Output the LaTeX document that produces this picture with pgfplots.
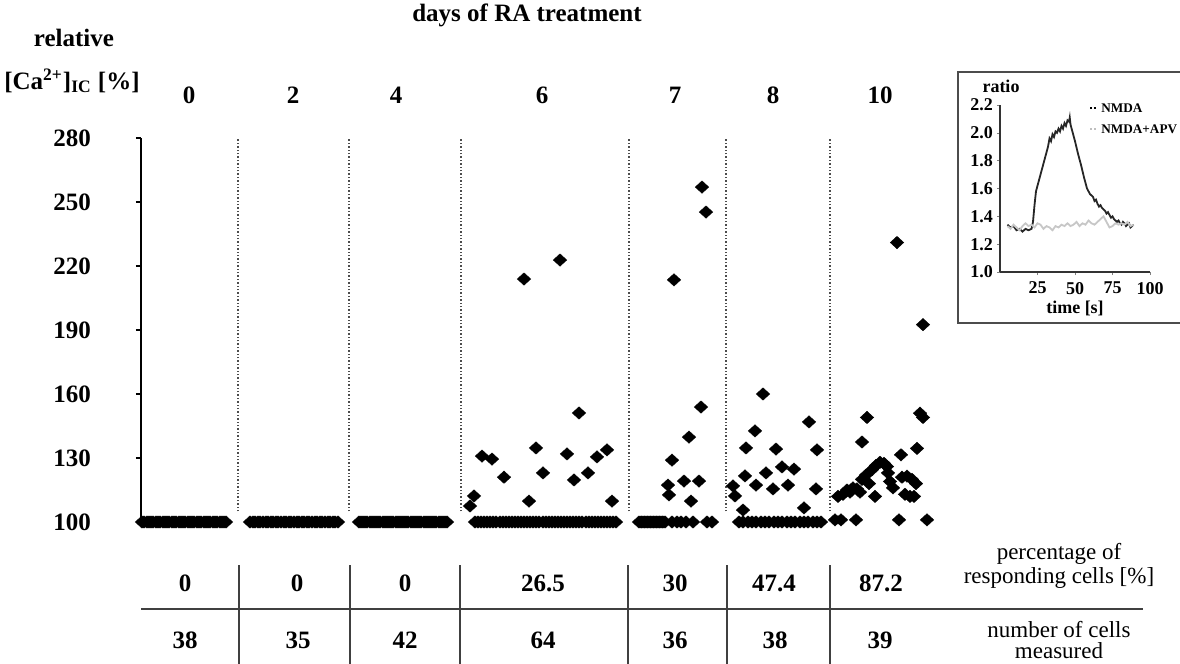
\documentclass[border=0pt]{standalone}
\usepackage{pgfplots}
\pgfplotsset{compat=1.18}
\usepackage{fontspec}
\setmainfont{Liberation Serif}
\pgfplotsset{
  dia/.style={only marks, mark=diamond*, mark size=3.1pt,
    mark options={fill=black, draw=black, line width=0.2pt, xscale=1.45}},
  sep/.style={densely dotted, black!70, line width=0.7pt},
}
\newcommand{\hf}{\fontsize{12.5}{14}\selectfont\bfseries}
\newcommand{\rf}{\fontsize{11.5}{13}\selectfont}
\newcommand{\insetf}{\fontsize{9}{10}\selectfont\bfseries}
\newcommand{\legf}{\fontsize{6.6}{7}\selectfont\bfseries}
\begin{document}
\begin{tikzpicture}[x=0.5pt,y=-0.5pt]
\useasboundingbox (0,0) rectangle (1180,664);

\begin{axis}[
  at={(70.5pt,-261pt)}, anchor=south west,
  scale only axis, width=402pt, height=192pt,
  xmin=141, xmax=945, ymin=100, ymax=280,
  axis x line=none, axis y line=left,
  axis line style={line width=1.4pt,-},
  ytick={100,130,160,190,220,250,280},
  xtick=\empty,
  tick align=outside, major tick length=2.5pt,
  tick style={line width=1pt,black},
  clip=false,
  /pgf/number format/assume math mode=true,
  yticklabel style={font=\hf, xshift=-19pt},
]
% separators
\addplot[sep] coordinates {(238,105) (238,280)};
\addplot[sep] coordinates {(349,105) (349,280)};
\addplot[sep] coordinates {(461,105) (461,280)};
\addplot[sep] coordinates {(629,105) (629,280)};
\addplot[sep] coordinates {(726,105) (726,280)};
\addplot[sep] coordinates {(830,105) (830,280)};
% day 0
\addplot[dia] coordinates {
(142,100)(144,100)(147,100)(149,100)(151,100)(153,100)(156,100)(158,100)(160,100)(163,100)
(165,100)(167,100)(169,100)(172,100)(174,100)(176,100)(179,100)(181,100)(183,100)(185,100)
(188,100)(190,100)(192,100)(194,100)(197,100)(199,100)(201,100)(204,100)(206,100)(208,100)
(210,100)(213,100)(215,100)(217,100)(220,100)(222,100)(224,100)(226,100)};
% day 2
\addplot[dia] coordinates {
(250,100)(253,100)(255,100)(258,100)(260,100)(263,100)(266,100)(268,100)(271,100)(273,100)
(276,100)(278,100)(281,100)(284,100)(286,100)(289,100)(291,100)(294,100)(297,100)(299,100)
(302,100)(304,100)(307,100)(309,100)(312,100)(315,100)(317,100)(320,100)(322,100)(325,100)
(328,100)(330,100)(333,100)(335,100)(338,100)};
% day 4
\addplot[dia] coordinates {
(359,100)(361,100)(363,100)(365,100)(367,100)(370,100)(372,100)(374,100)(376,100)(378,100)
(380,100)(383,100)(385,100)(387,100)(389,100)(391,100)(393,100)(396,100)(398,100)(400,100)
(402,100)(404,100)(406,100)(408,100)(411,100)(413,100)(415,100)(417,100)(419,100)(421,100)
(424,100)(426,100)(428,100)(430,100)(432,100)(434,100)(436,100)(439,100)(441,100)(443,100)
(445,100)(447,100)};
% day 6
\addplot[dia] coordinates {
(475,100)(478,100)(481,100)(484,100)(487,100)(490,100)(493,100)(496,100)(500,100)(503,100)
(506,100)(509,100)(512,100)(515,100)(518,100)(521,100)(524,100)(527,100)(530,100)(533,100)
(536,100)(539,100)(543,100)(546,100)(549,100)(552,100)(555,100)(558,100)(561,100)(564,100)
(567,100)(570,100)(573,100)(576,100)(579,100)(582,100)(586,100)(589,100)(592,100)(595,100)
(598,100)(601,100)(604,100)(607,100)(610,100)(613,100)(616,100)
(560,222.8)(524,213.9)(579,151.1)(482,130.9)(492,129.5)(504,121)(536,134.7)(543,123)
(567,131.9)(574,119.7)(588,123)(597,130.5)(607,133.8)(529,109.8)(612,109.8)(474,112.2)(470,107.5)};
% day 7
\addplot[dia] coordinates {
(639,100)(641,100)(642,100)(644,100)(645,100)(647,100)(648,100)(650,100)(651,100)(653,100)
(654,100)(656,100)(657,100)(659,100)(660,100)(662,100)(663,100)(665,100)
(672,100)(677,100)(681,100)(686,100)(693,100)(707,100)(712,100)
(702,257)(706,245.3)(674,213.5)(701,153.9)(689,139.8)(672,129)(668,117.3)(669,112.7)
(684,119.2)(699,119.2)(691,109.8)};
% day 8
\addplot[dia] coordinates {
(739,100)(743,100)(748,100)(752,100)(756,100)(761,100)(765,100)(769,100)(774,100)(778,100)
(782,100)(787,100)(791,100)(795,100)(800,100)(804,100)(808,100)(813,100)(817,100)(821,100)
(763,160)(755,142.7)(746,134.7)(776,134.2)(809,146.9)(817,133.8)(745,121.6)(766,123)
(782,125.8)(794,124.8)(756,117.3)(773,115.5)(788,117.3)(733,116.9)(735,112.2)(743,105.6)
(804,106.6)(816,115.5)};
% day 10
\addplot[dia] coordinates {
(835,101)(841,101)(856,101)(899,101)(927,101)
(867,149)(920,151)(923,149)(862,137.5)(917,134.5)(901,131.5)(897,231)(923,192.5)
(838,112)(843,113)(847,115)(850,114)(853,116)(857,115.5)(860,114)(862,120)(866,122)
(869,118)(872,124.5)(876,126.5)(880,128)(884,127.5)(887,126)(888,123)(890,119)(893,116)
(875,112)(902,121)(907,121.5)(912,120)(916,118)(905,113)(910,112)(914,112)};
\end{axis}

% headers
\node[font=\hf] at (527,15) {days of RA treatment};
\node[font=\hf] at (74,38) {relative};
\node[font=\hf] at (72,81) {[Ca\textsuperscript{2+}]\textsubscript{IC} [\%]};
\node[font=\hf] at (189,95) {0};
\node[font=\hf] at (293,95) {2};
\node[font=\hf] at (396,95) {4};
\node[font=\hf] at (542,95) {6};
\node[font=\hf] at (675,95) {7};
\node[font=\hf] at (773,95) {8};
\node[font=\hf] at (880,95) {10};

% table
\draw[line width=0.9pt, black!75] (141,609) -- (1143,609);
\foreach \xx in {239,350,460,628,727,830}
  \draw[line width=0.9pt, black!75] (\xx,565) -- (\xx,664);
\node[font=\hf] at (185,583) {0};
\node[font=\hf] at (297,583) {0};
\node[font=\hf] at (405,583) {0};
\node[font=\hf] at (543,583) {26.5};
\node[font=\hf] at (675,583) {30};
\node[font=\hf] at (774,583) {47.4};
\node[font=\hf] at (881,583) {87.2};
\node[font=\hf] at (185,640) {38};
\node[font=\hf] at (298,640) {35};
\node[font=\hf] at (405,640) {42};
\node[font=\hf] at (543,640) {64};
\node[font=\hf] at (675,640) {36};
\node[font=\hf] at (775,640) {38};
\node[font=\hf] at (880,640) {39};
\node[font=\rf] at (1059,554) {percentage of};
\node[font=\rf] at (1059,578) {responding cells [\%]};
\node[font=\rf] at (1059,630) {number of cells};
\node[font=\rf] at (1059,651) {measured};

% inset
\draw[line width=1.2pt, black!70] (958,72) rectangle (1195,323);
\begin{axis}[
  at={(500pt,-136pt)}, anchor=south west,
  scale only axis, width=75pt, height=83.5pt,
  xmin=0, xmax=100, ymin=1, ymax=2.2,
  axis lines=left, axis line style={-, line width=0.9pt, black!80},
  xtick={25,50,75,100}, ytick={1,1.2,1.4,1.6,1.8,2,2.2},
  tick align=outside, major tick length=1.5pt,
  /pgf/number format/assume math mode=true,
  tick label style={font=\insetf},
  yticklabel style={xshift=1.5pt, /pgf/number format/.cd, fixed, fixed zerofill, precision=1},
  clip=false,
]
\addplot[black!85, line width=0.9pt] coordinates {
(5,1.34)(7,1.32)(9,1.33)(11,1.30)(13,1.31)(15,1.29)(17,1.31)(19,1.30)(21,1.31)(22,1.36)
(23,1.48)(24,1.58)(25,1.62)(27,1.70)(29,1.78)(31,1.86)(32,1.90)(33,1.96)(34,1.94)(35,1.99)
(36,1.97)(37,2.01)(38,2.00)(39,2.03)(40,2.01)(41,2.05)(42,2.03)(43,2.07)(44,2.05)(45,2.09)
(46,2.08)(46.5,2.11)(47,2.06)(48,2.02)(50,1.94)(52,1.85)(54,1.77)(56,1.68)(58,1.60)(59,1.58)
(60,1.56)(61,1.55)(62,1.54)(63,1.51)(64,1.52)(65,1.49)(66,1.47)(67,1.48)(68,1.46)(69,1.45)
(70,1.44)(71,1.42)(72,1.43)(73,1.41)(74,1.39)(75,1.40)(76,1.38)(77,1.37)(78,1.36)(79,1.37)
(80,1.35)(81,1.34)(82,1.36)(83,1.35)(84,1.33)(85,1.34)(86,1.35)(87,1.32)(88,1.33)(89,1.34)};
\addplot[black!22, line width=0.9pt] coordinates {
(5,1.33)(7,1.31)(9,1.34)(11,1.32)(13,1.30)(15,1.33)(17,1.35)(19,1.33)(21,1.34)(23,1.32)
(25,1.35)(27,1.34)(29,1.31)(31,1.33)(33,1.32)(35,1.30)(37,1.33)(39,1.32)(41,1.34)(43,1.33)
(45,1.35)(47,1.33)(49,1.34)(51,1.36)(53,1.33)(55,1.35)(57,1.34)(59,1.37)(61,1.35)(63,1.34)
(65,1.36)(67,1.38)(69,1.40)(71,1.36)(73,1.32)(75,1.33)(77,1.35)(79,1.34)(81,1.35)(83,1.34)
(85,1.36)(87,1.33)(89,1.34)};
\end{axis}
\node[font=\insetf] at (1001,86) {ratio};
\node[font=\insetf] at (1075,308) {time [s]};
\draw[densely dotted, black, line width=1pt] (1090,108) -- (1098,108);
\node[font=\legf, anchor=west, inner sep=1pt] at (1099,108) {NMDA};
\draw[densely dotted, black!25, line width=1pt] (1090,129) -- (1098,129);
\node[font=\legf, anchor=west, inner sep=1pt] at (1099,129) {NMDA+APV};
\end{tikzpicture}
\end{document}
